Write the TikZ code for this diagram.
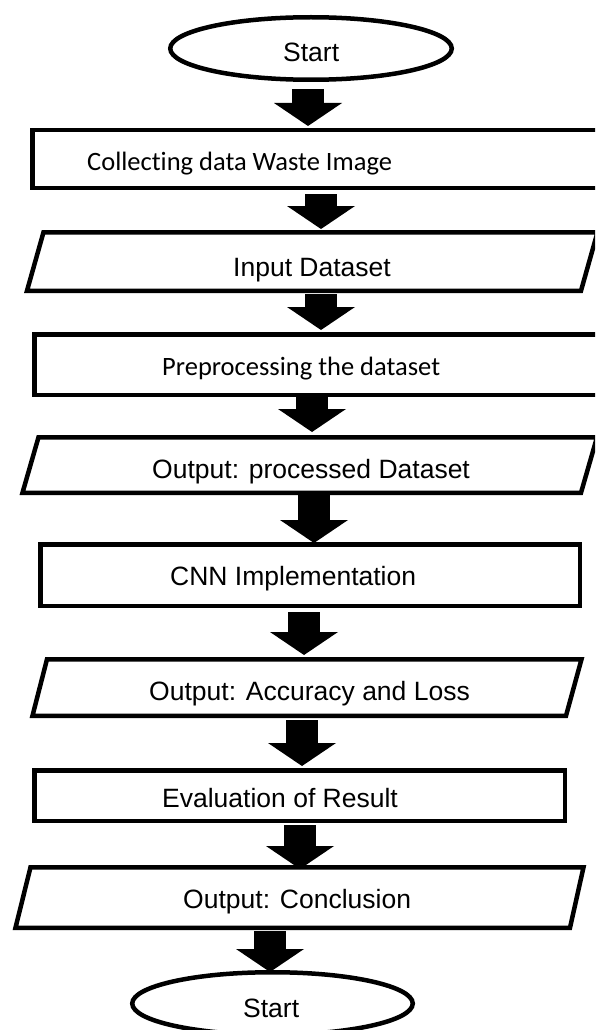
\documentclass[tikz,border=0pt]{standalone}
\usepackage{fontspec}
\setmainfont{Liberation Sans}
\newfontfamily\calibrifont[Ligatures=NoCommon]{Carlito}
\usetikzlibrary{arrows.meta}
\begin{document}
\begin{tikzpicture}[x=1pt,y=-1pt,
  box/.style={draw=black,line width=4.5pt,fill=white,line join=miter},
  lbl/.style={inner sep=0pt,anchor=base west,font=\fontsize{26.5}{30}\selectfont},
  clbl/.style={lbl,font=\calibrifont\fontsize{26.5}{30}\selectfont},
  flow/.style={draw=black,line width=32pt,-{Triangle[width=68pt 0 0,length=23pt 0 0,line width=0pt]}}]
\useasboundingbox (0,0) rectangle (595,1030);
\clip (0,0) rectangle (595,1030);

% shapes
\draw[box] (311,48.5) ellipse [x radius=140.75, y radius=31.25];
\draw[box] (32.25,130.25) rectangle (640,187.75);
\draw[box] (27,290.75) -- (43.5,232.25) -- (597.5,232.25) -- (581,290.75) -- cycle;
\draw[box] (34.25,334.25) rectangle (640,394.75);
\draw[box] (22.5,492.75) -- (38.5,437.25) -- (597,437.25) -- (581,492.75) -- cycle;
\draw[box] (40.25,544.25) rectangle (579.75,605.75);
\draw[box] (32.5,715.75) -- (47,659.25) -- (581.5,659.25) -- (566,715.75) -- cycle;
\draw[box] (34.25,770.25) rectangle (564.75,820.75);
\draw[box] (15.5,927.75) -- (30.5,867.25) -- (583.5,867.25) -- (570,927.75) -- cycle;
\draw[box] (272.5,1003.5) ellipse [x radius=140.25, y radius=31.25];

% labels
\node[lbl]  (start) at (283,62)  {Start};
\node[clbl] (collect) at (87,170) {Collecting data Waste Image};
\node[lbl]  (input) at (233,276) {Input Dataset};
\node[clbl] (prep) at (162,375) {Preprocessing the dataset};
\node[lbl]  (procout) at (152,478) {Output: processed Dataset};
\node[lbl]  (cnn) at (170,585) {CNN Implementation};
\node[lbl]  (accout) at (149,700) {Output: Accuracy and Loss};
\node[lbl]  (eval) at (162,807) {Evaluation of Result};
\node[lbl]  (concl) at (183,908) {Output: Conclusion};
\node[lbl]  (stop) at (243,1017) {Start};

% connector ends
\coordinate (a1s) at (308,89);  \coordinate (a1e) at (308,126);
\coordinate (a2s) at (321,194); \coordinate (a2e) at (321,229);
\coordinate (a3s) at (321,294); \coordinate (a3e) at (321,330);
\coordinate (a4s) at (312,397); \coordinate (a4e) at (312,432);
\coordinate (a5s) at (314,495); \coordinate (a5e) at (314,543);
\coordinate (a6s) at (304,612); \coordinate (a6e) at (304,655);
\coordinate (a7s) at (302,720); \coordinate (a7e) at (302,766);
\coordinate (a8s) at (300,825); \coordinate (a8e) at (300,869);
\coordinate (a9s) at (270,931); \coordinate (a9e) at (270,972);

\foreach \i in {1,...,9} {\draw[flow] (a\i s) -- (a\i e);}
\end{tikzpicture}
\end{document}
